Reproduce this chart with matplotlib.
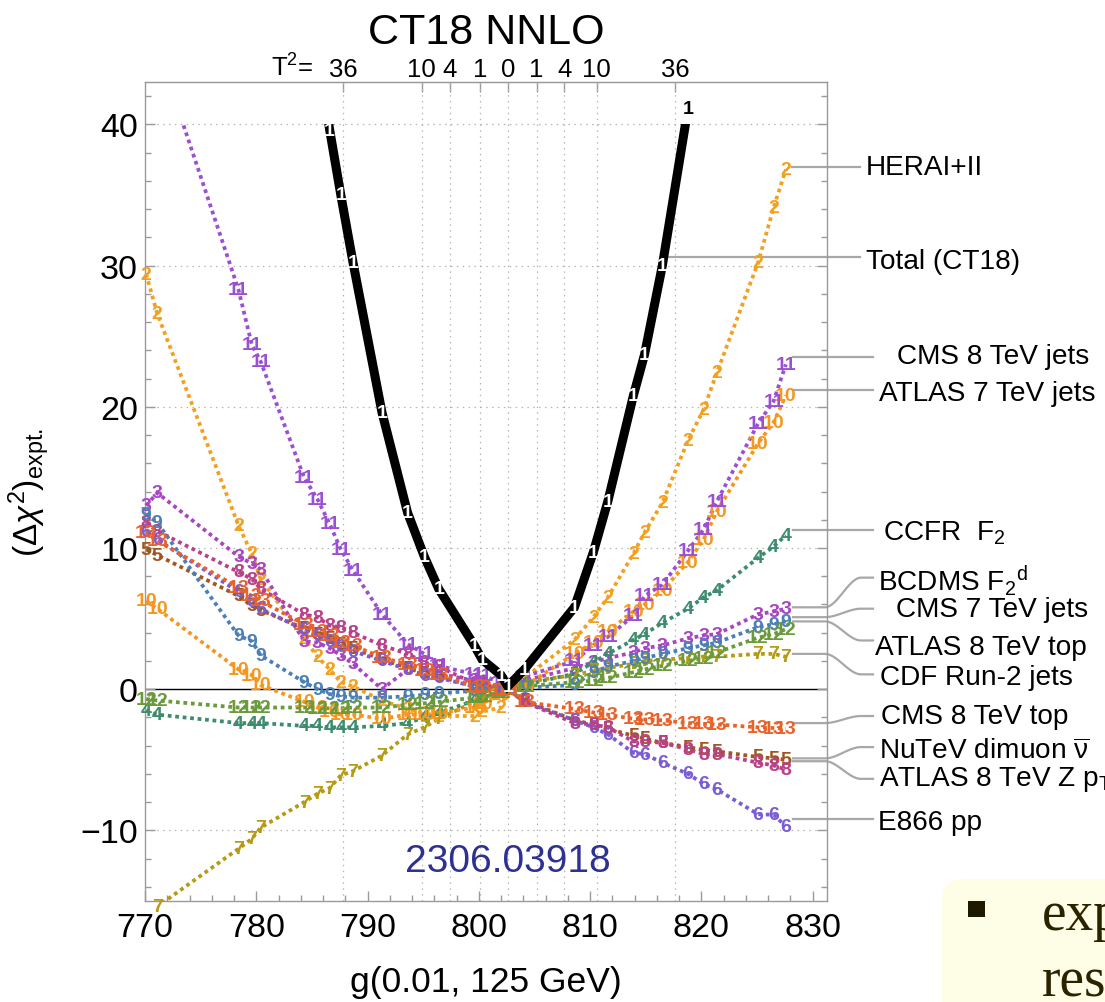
import numpy as np
import matplotlib
matplotlib.use("Agg")
import matplotlib.pyplot as plt
from matplotlib.patches import FancyBboxPatch, Rectangle
from matplotlib.lines import Line2D

plt.rcParams['font.family'] = ['Liberation Sans', 'DejaVu Sans']
plt.rcParams['mathtext.fontset'] = 'custom'
plt.rcParams['mathtext.rm'] = 'Liberation Sans'
plt.rcParams['mathtext.it'] = 'Liberation Sans:italic'
plt.rcParams['mathtext.bf'] = 'Liberation Sans:bold'

nan = np.nan

# ---------------- data ----------------
g_scan = [770.1, 771.1, 778.4, 779.6, 780.4, 784.3, 785.5, 786.6, 787.6, 788.7,
          791.3, 793.6, 795.1, 796.4, 799.6, 800.3, 802.0, 802.6, 804.1, 808.6,
          810.3, 811.6, 813.9, 814.9, 816.5, 818.8, 820.2, 821.4, 825.1, 826.5, 827.6]

total_ct18 = [nan, nan, nan, nan, nan, nan, 45.5, 39.6, 35.0, 30.2,
              19.6, 12.5, 9.4, 7.1, 3.1, 2.1, 1.0, 0.2, 1.4, 5.8,
              9.7, 13.3, 20.8, 23.7, 30.0, 41.1, nan, nan, nan, nan, nan]
hera = [29.4, 26.6, 11.6, 9.6, 7.8, 3.6, 2.3, 1.4, 0.5, 0.2,
        -0.8, -1.4, -1.7, -1.9, -1.9, -1.6, -1.3, 0.0, 0.8, 3.5,
        5.1, 6.5, 9.6, 11.1, 13.2, 17.6, 19.8, 22.4, 30.2, 34.1, 36.8]
bcdms_f2d = [13.0, 13.9, 9.4, 8.9, 8.5, 3.4, 3.3, 2.9, 2.4, 1.8,
             0.0, 1.4, 1.3, 1.1, 0.6, 0.5, 0.2, 0.0, 0.6, 1.5,
             1.9, 2.2, 2.6, 2.9, 3.1, 3.6, 3.8, 3.9, 5.3, 5.5, 5.7]
ccfr_f2 = [-1.5, -1.8, -2.4, -2.4, -2.4, -2.6, -2.6, -2.7, -2.7, -2.7,
           -2.6, -2.4, -2.0, -1.7, -0.8, -0.6, -0.2, 0.0, 0.3, 1.1,
           1.9, 2.5, 3.5, 3.9, 4.7, 5.7, 6.5, 7.0, 9.3, 10.1, 10.9]
nutev_dimuon = [9.9, 9.5, 6.6, 5.9, 5.6, 4.3, 3.9, 3.6, 3.2, 2.9,
                2.1, 1.5, 1.1, 0.9, 0.2, 0.1, 0.0, 0.0, -0.8, -2.2,
                -2.5, -2.8, -3.3, -3.5, -3.8, -4.1, -4.3, -4.4, -4.8, -4.9, -5.0]
e866_pp = [11.2, 10.6, 6.9, 6.2, 5.7, 4.2, 3.8, 3.4, 3.0, 2.7,
           2.0, 1.4, 1.0, 0.8, 0.2, 0.1, 0.0, 0.0, -0.9, -2.2,
           -2.7, -3.2, -4.5, -4.6, -5.2, -6.0, -6.7, -7.1, -8.85, -8.9, -9.7]
cdf_run2_jets = [-17.5, -15.4, -11.3, -10.6, -9.8, -8.0, -7.4, -7.0, -6.1, -5.8,
                 -4.7, -3.2, -2.7, -2.1, -0.9, -0.6, -0.2, 0.0, 0.5, 1.0,
                 1.3, 1.5, 1.8, 2.0, 2.1, 2.2, 2.3, 2.3, 2.5, 2.5, 2.3]
atlas8_zpt = [11.8, 11.2, 8.3, 7.8, 7.1, 5.3, 5.1, 4.5, 4.4, 4.0,
              3.1, 2.5, 1.9, 1.6, 0.4, 0.3, 0.1, 0.0, -0.9, -2.4,
              -2.5, -2.7, -3.7, -3.7, -3.8, -4.25, -4.6, -4.6, -5.2, -5.4, -5.7]
atlas8_top = [12.4, 11.8, 3.8, 3.4, 2.4, 0.5, 0.0, -0.35, -0.5, -0.6,
              -0.6, -0.5, -0.4, -0.3, -0.1, 0.0, 0.0, 0.0, 0.1, 0.3,
              1.2, 1.6, 2.0, 2.2, 2.5, 2.9, 3.1, 3.3, 4.4, 4.6, 4.8]
atlas7_jets = [6.25, 5.7, 1.4, 1.0, 0.3, -0.9, -1.3, -1.6, -1.8, -1.8,
               -2.1, -1.8, -1.8, -1.7, -1.3, -1.0, -0.4, 0.0, 0.2, 2.5,
               3.3, 4.1, 5.5, 6.0, 7.0, 9.0, 10.6, 12.6, 17.4, 18.9, 20.8]
cms8_jets = [48.0, 45.5, 28.3, 24.4, 23.2, 15.0, 13.45, 11.7, 9.9, 8.4,
             5.3, 3.2, 2.5, 1.65, 1.06, 0.95, 0.5, 0.0, 0.9, 2.0,
             3.1, 3.7, 5.2, 6.6, 7.4, 9.8, 11.3, 13.3, 18.8, 20.4, 23.0]
cms7_jets = [-0.7, -0.8, -1.3, -1.3, -1.3, -1.3, -1.35, -1.35, -1.35, -1.3,
             -1.3, -1.1, -1.0, -0.9, -0.6, -0.5, -0.2, 0.0, 0.2, 0.5,
             0.6, 0.8, 1.2, 1.4, 1.65, 2.0, 2.2, 2.6, 3.65, 3.9, 4.25]
cms8_top = [11.1, 10.5, 7.2, 6.6, 6.25, 4.6, 4.1, 3.8, 3.3, 3.1,
            2.25, 1.75, 1.3, 1.06, 0.2, 0.1, -0.1, 0.0, -0.9, -1.4,
            -1.65, -1.8, -2.1, -2.15, -2.2, -2.4, -2.45, -2.5, -2.7, -2.75, -2.8]

series_ids = ['2', '3', '4', '5', '6', '7', '8', '9', '10', '11', '12', '13']
series_vals = [hera, bcdms_f2d, ccfr_f2, nutev_dimuon, e866_pp, cdf_run2_jets,
               atlas8_zpt, atlas8_top, atlas7_jets, cms8_jets, cms7_jets, cms8_top]
series_colors = ['#F2A01F', '#A845C0', '#3D8C6E', '#A0561F', '#7B5CD6', '#B59A12',
                 '#B8418A', '#4B7FB5', '#F5961E', '#9B4FD1', '#6B9A3A', '#E8632B']

t2_positions = [787.84, 794.86, 797.41, 800.15, 802.67, 805.19, 807.70, 810.61, 817.68]
t2_labels = ['36', '10', '4', '1', '0', '1', '4', '10', '36']

right_labels = ['HERAI+II', 'Total (CT18)', 'CMS 8 TeV jets', 'ATLAS 7 TeV jets',
                r'CCFR  F$_2$', r'BCDMS F$_2{}^{\rm d}$', 'CMS 7 TeV jets',
                'ATLAS 8 TeV top', 'CDF Run-2 jets', 'CMS 8 TeV top',
                r'NuTeV dimuon $\overline{\mathrm{\nu}}$', r'ATLAS 8 TeV Z p$_{\rm T}$', 'E866 pp']

# layout of the callouts: (line start px, y0, line end px, y1, text x px, text y)
callout_layout = [
    (792, 37.0, 860, 37.0, 866, 37.0),
    (667, 30.6, 860, 30.6, 866, 30.3),
    (793, 23.5, 873, 23.5, 897, 23.6),
    (793, 21.2, 873, 21.2, 879, 21.0),
    (793, 11.3, 873, 11.3, 883, 11.1),
    (793, 5.8, 873, 7.9, 878, 7.8),
    (793, 5.1, 873, 5.7, 896, 5.7),
    (793, 4.8, 873, 3.45, 875, 3.0),
    (793, 2.5, 873, 1.05, 880, 0.87),
    (793, -2.4, 873, -1.9, 881, -1.9),
    (793, -4.9, 873, -4.1, 879, -4.37),
    (793, -5.1, 873, -6.35, 879, -6.36),
    (793, -9.2, 873, -9.2, 878, -9.4),
]

# ---------------- figure ----------------
W, H = 1105, 1003
fig = plt.figure(figsize=(W / 100, H / 100), dpi=100)
AX_L, AX_R, AX_T, AX_B = 145, 827, 83, 902
ax = fig.add_axes([AX_L / W, 1 - AX_B / H, (AX_R - AX_L) / W, (AX_B - AX_T) / H])
XLIM = (770.0, 831.3)
YLIM = (-15.0, 43.0)
ax.set_xlim(*XLIM)
ax.set_ylim(*YLIM)


def gx(px):
    return XLIM[0] + (px - AX_L) / (AX_R - AX_L) * (XLIM[1] - XLIM[0])


def vy(py):
    return YLIM[0] + (AX_B - py) / (AX_B - AX_T) * (YLIM[1] - YLIM[0])


frame_col = '#9a9a9a'
for s in ax.spines.values():
    s.set_color(frame_col)
    s.set_linewidth(1.0)

ax.set_xticks(np.arange(770, 831, 10))
ax.set_xticks(np.arange(770, 832, 2), minor=True)
ax.set_yticks([-10, 0, 10, 20, 30, 40])
ax.set_yticks(np.arange(-14, 43, 2), minor=True)
ax.tick_params(which='both', direction='in', color=frame_col, width=1,
               top=False, right=True, labelsize=24.5)
ax.tick_params(axis='x', which='both', pad=8)
ax.tick_params(axis='y', which='both', pad=5)
ax.tick_params(which='major', length=7)
ax.tick_params(which='minor', length=4)

secax = ax.secondary_xaxis('top')
secax.set_xticks(t2_positions)
secax.set_xticklabels([''] * len(t2_positions))
secax.tick_params(direction='in', length=7, width=1, color=frame_col)
secax.spines['top'].set_color(frame_col)

# grid
grid_kw = dict(color='#b5b5b5', lw=0.9, ls=(0, (1.2, 3.5)), zorder=0.5)
for xg in t2_positions:
    ax.axvline(xg, **grid_kw)
for yg in [-10, 10, 20, 30, 40]:
    ax.axhline(yg, **grid_kw)
ax.axhline(0, color='black', lw=1.0, zorder=0.8)

clip_rect = Rectangle((XLIM[0] - 1, YLIM[0]), 80, 40 - YLIM[0], transform=ax.transData)

lab_font = dict(fontsize=14, fontweight='bold', ha='center', va='center')

for sid, vals, col in zip(series_ids, series_vals, series_colors):
    ln, = ax.plot(g_scan, vals, color=col, lw=2.7, ls=(0, (1.0, 1.0)), zorder=2)
    ln.set_clip_path(clip_rect)
    for xv, yv in zip(g_scan, vals):
        if np.isnan(yv) or yv > 41.5 or yv < -16:
            continue
        ax.text(xv, yv, sid, color=col, zorder=3, clip_on=False, **lab_font)

ln, = ax.plot(g_scan, total_ct18, color='black', lw=6.5, solid_joinstyle='miter', zorder=4)
ln.set_clip_path(clip_rect)
for xv, yv in zip(g_scan, total_ct18):
    if np.isnan(yv) or yv > 41.5:
        continue
    ax.text(xv, yv, '1', color='white' if yv <= 40 else 'black', zorder=5,
            clip_on=False, **lab_font)

# T^2 labels on top
ax.text(gx(292), vy(77), r'T$^2$=', ha='center', va='baseline', fontsize=18.5, clip_on=False)
for xp, lab in zip(t2_positions, t2_labels):
    ax.text(xp, vy(77), lab, ha='center', va='baseline', fontsize=18.5, clip_on=False)

# callouts
for txt, (x0p, y0, x1p, y1, txp, ty) in zip(right_labels, callout_layout):
    x0, x1 = gx(x0p), gx(x1p)
    xs = np.linspace(x0, x1, 80)
    t = np.clip((xs - (x0 + 0.4 * (x1 - x0))) / (0.45 * (x1 - x0)), 0, 1)
    ys = y0 + (y1 - y0) * (3 * t ** 2 - 2 * t ** 3)
    ax.add_line(Line2D(xs, ys, color='#a8a8a8', lw=1.6, clip_on=False, zorder=1.5))
    ax.text(gx(txp), ty, txt, ha='left', va='center', fontsize=20.2, clip_on=False)

ax.text(802.6, -12.2, '2306.03918', ha='center', va='center', fontsize=28,
        color='#2E3192', zorder=6)

fig.text(486 / W, 1 - 33 / H, 'CT18 NNLO', ha='center', va='center', fontsize=31)
fig.text(486 / W, 1 - 983 / H, 'g(0.01, 125 GeV)', ha='center', va='center', fontsize=25.5)
fig.text(29 / W, 1 - 493 / H, r'$(\Delta\chi^{2})_{\rm expt.}$', ha='center', va='center',
         rotation=90, fontsize=24)

# slide box in the corner
box = FancyBboxPatch((942 / W, 1 - 1060 / H), 260 / W, 180 / H,
                     boxstyle='round,pad=0,rounding_size=0.02',
                     transform=fig.transFigure, facecolor='#FEFEE6', edgecolor='none')
fig.add_artist(box)
fig.add_artist(Rectangle((968 / W, 1 - 918 / H), 17 / W, 16 / H, transform=fig.transFigure,
                         facecolor='#1E1A00', edgecolor='none'))
fig.text(1042 / W, 1 - 930 / H, 'exp', fontsize=40, family='Liberation Serif',
         color='#2B2200', va='baseline', ha='left')
fig.text(1042 / W, 1 - 997 / H, 'res', fontsize=40, family='Liberation Serif',
         color='#2B2200', va='baseline', ha='left')

fig.savefig('out.png', dpi=100)
